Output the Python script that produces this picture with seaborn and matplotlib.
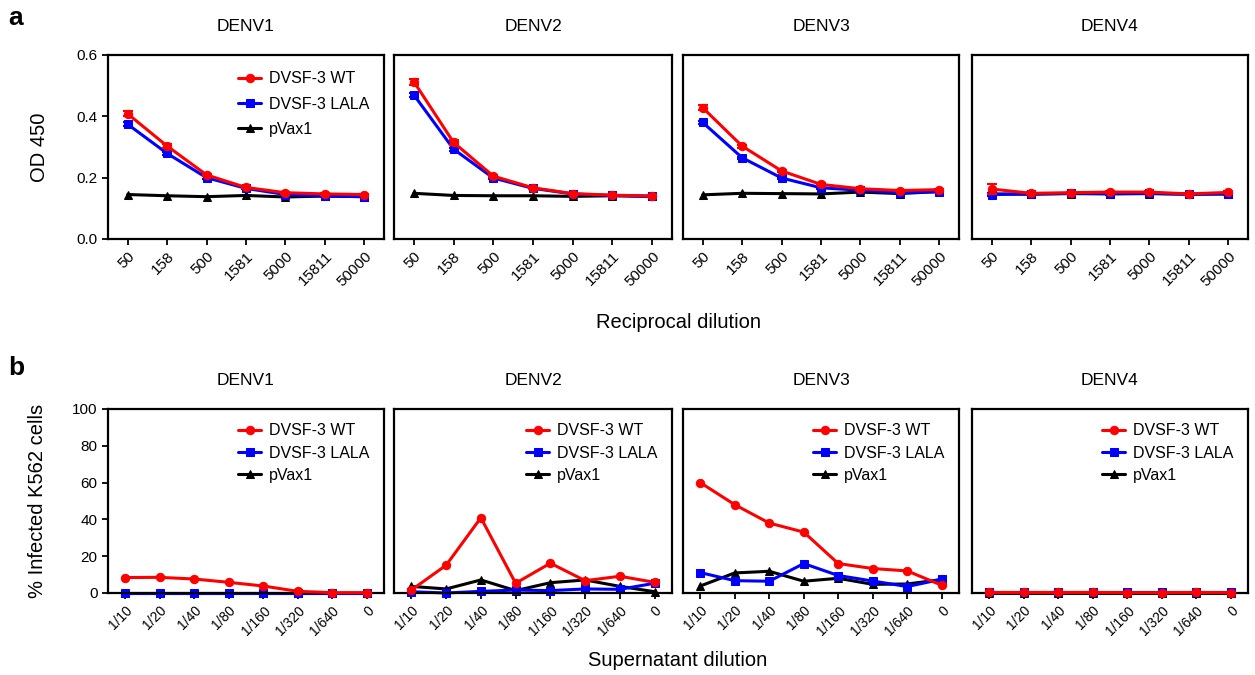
import numpy as np
import matplotlib.pyplot as plt
import seaborn as sns
import pandas as pd

sns.set_style("white")
plt.rcParams["font.family"] = ["Liberation Sans", "DejaVu Sans"]
plt.rcParams["text.color"] = "black"
plt.rcParams["axes.labelcolor"] = "black"
plt.rcParams["xtick.color"] = "black"
plt.rcParams["ytick.color"] = "black"

# ---数据----------------------------------------------------------------
serotypes = ["DENV1", "DENV2", "DENV3", "DENV4"]
series_names = ["DVSF-3 WT", "DVSF-3 LALA", "pVax1"]

# a: ELISA OD450
recip_dilution = ["50", "158", "500", "1581", "5000", "15811", "50000"]
od_wt = [
    [0.408, 0.303, 0.209, 0.168, 0.151, 0.147, 0.145],
    [0.513, 0.315, 0.205, 0.167, 0.148, 0.143, 0.140],
    [0.428, 0.303, 0.222, 0.178, 0.164, 0.158, 0.161],
    [0.163, 0.149, 0.151, 0.153, 0.153, 0.147, 0.152],
]
od_wt_err = [
    [0.008, 0.007, 0.004, 0.003, 0.003, 0.002, 0.002],
    [0.010, 0.007, 0.004, 0.003, 0.002, 0.002, 0.002],
    [0.008, 0.005, 0.004, 0.003, 0.003, 0.002, 0.002],
    [0.016, 0.003, 0.003, 0.004, 0.003, 0.002, 0.003],
]
od_lala = [
    [0.374, 0.279, 0.200, 0.165, 0.145, 0.140, 0.138],
    [0.470, 0.293, 0.199, 0.165, 0.147, 0.142, 0.139],
    [0.380, 0.265, 0.199, 0.167, 0.159, 0.151, 0.154],
    [0.145, 0.147, 0.149, 0.148, 0.149, 0.146, 0.147],
]
od_lala_err = [
    [0.006, 0.005, 0.004, 0.003, 0.002, 0.002, 0.002],
    [0.006, 0.005, 0.004, 0.003, 0.002, 0.002, 0.002],
    [0.006, 0.004, 0.004, 0.003, 0.002, 0.002, 0.002],
    [0.004, 0.003, 0.003, 0.003, 0.002, 0.002, 0.002],
]
od_pvax = [
    [0.145, 0.141, 0.138, 0.142, 0.137, 0.140, 0.138],
    [0.149, 0.142, 0.141, 0.141, 0.139, 0.141, 0.139],
    [0.144, 0.149, 0.148, 0.147, 0.153, 0.148, 0.155],
    [0.147, 0.146, 0.148, 0.147, 0.148, 0.146, 0.147],
]

# b: ADE, % infected K562
sup_dilution = ["1/10", "1/20", "1/40", "1/80", "1/160", "1/320", "1/640", "0"]
inf_wt = [
    [8.4, 8.5, 7.6, 5.8, 3.8, 0.9, 0.2, 0.2],
    [1.6, 15.1, 40.9, 5.3, 16.2, 6.7, 9.1, 5.8],
    [60.0, 48.0, 38.0, 33.1, 16.0, 13.3, 12.0, 4.2],
    [0.3, 0.3, 0.3, 0.3, 0.2, 0.2, 0.3, 0.2],
]
inf_lala = [
    [0.2, 0.2, 0.2, 0.2, 0.2, 0.2, 0.2, 0.2],
    [0.7, 0.0, 0.9, 1.6, 1.3, 2.2, 2.0, 5.3],
    [11.1, 6.7, 6.4, 16.0, 9.5, 6.5, 3.5, 7.5],
    [0.3, 0.3, 0.3, 0.3, 0.3, 0.3, 0.3, 0.3],
]
inf_pvax = [
    [0.1, 0.1, 0.1, 0.1, 0.1, 0.1, 0.1, 0.1],
    [3.6, 2.2, 7.1, 1.3, 5.6, 7.1, 3.6, 0.7],
    [3.8, 10.9, 11.8, 6.4, 8.0, 4.7, 4.9, 7.3],
    [0.2, 0.2, 0.2, 0.2, 0.2, 0.2, 0.2, 0.2],
]

colors = {"DVSF-3 WT": "#ff0000", "DVSF-3 LALA": "#0000ff", "pVax1": "#000000"}
markers = {"DVSF-3 WT": "o", "DVSF-3 LALA": "s", "pVax1": "^"}

W, H = 1255, 675
fig = plt.figure(figsize=(W / 100, H / 100), dpi=100)

# 坐标轴像素位置 (left, right)
col_px = [(108, 384), (394, 672), (683, 959), (972, 1248)]
row_px = {"a": (55, 239), "b": (409, 593)}


def make_ax(col, row):
    x0, x1 = col_px[col]
    y0, y1 = row_px[row]
    return fig.add_axes([x0 / W, 1 - y1 / H, (x1 - x0) / W, (y1 - y0) / H])


def style_ax(ax, labels, first, xsize):
    for sp in ax.spines.values():
        sp.set_linewidth(1.6)
        sp.set_color("black")
        sp.set_visible(True)
    ax.set_xticks(range(len(labels)))
    ax.set_xticklabels(labels, rotation=45, ha="right", rotation_mode="anchor", fontsize=xsize)
    ax.tick_params(axis="both", direction="out", length=4, width=1.3, color="black",
                   bottom=True, left=first)
    ax.set_xlim(-0.5, len(labels) - 0.5)
    ax.set_xlabel("")
    ax.set_ylabel("")
    if not first:
        ax.set_yticklabels([])


def draw_series(ax, x, y, name, err=None):
    df = pd.DataFrame({"x": x, "y": y})
    sns.lineplot(data=df, x="x", y="y", ax=ax, color=colors[name], marker=markers[name],
                 markersize=6, markeredgecolor=colors[name], linewidth=2.2,
                 label=name, clip_on=False, zorder=3 if name == "DVSF-3 WT" else 2)
    if err is not None:
        ax.errorbar(x, y, yerr=err, fmt="none", ecolor=colors[name], elinewidth=1.5,
                    capsize=3.5, capthick=1.5, zorder=2)


def add_legend(ax, spacing, anchor_y):
    h, l = ax.get_legend_handles_labels()
    order = [l.index(n) for n in series_names]
    ax.legend([h[k] for k in order], series_names, loc="upper right", frameon=False,
              fontsize=11.5, handlelength=1.45, handletextpad=0.5, labelspacing=spacing,
              bbox_to_anchor=(1.0, anchor_y))


# ---a 行----------------------------------------------------------------
xa = np.arange(len(recip_dilution))
for i, sero in enumerate(serotypes):
    ax = make_ax(i, "a")
    draw_series(ax, xa, od_pvax[i], "pVax1")
    draw_series(ax, xa, od_lala[i], "DVSF-3 LALA", od_lala_err[i])
    draw_series(ax, xa, od_wt[i], "DVSF-3 WT", od_wt_err[i])
    ax.set_ylim(0, 0.6)
    ax.set_yticks([0.0, 0.2, 0.4, 0.6])
    ax.set_yticklabels(["0.0", "0.2", "0.4", "0.6"], fontsize=11)
    style_ax(ax, recip_dilution, i == 0, 11)
    ax.set_title(sero, fontsize=12.5, pad=17)
    if i == 0:
        add_legend(ax, 0.65, 0.99)
        ax.set_ylabel("OD 450", fontsize=14.5, labelpad=20)
    else:
        ax.get_legend().remove()

# ---b 行----------------------------------------------------------------
xb = np.arange(len(sup_dilution))
for i, sero in enumerate(serotypes):
    ax = make_ax(i, "b")
    draw_series(ax, xb, inf_pvax[i], "pVax1")
    draw_series(ax, xb, inf_lala[i], "DVSF-3 LALA")
    draw_series(ax, xb, inf_wt[i], "DVSF-3 WT")
    ax.set_ylim(0, 100)
    ax.set_yticks([0, 20, 40, 60, 80, 100])
    ax.set_yticklabels(["0", "20", "40", "60", "80", "100"], fontsize=11)
    style_ax(ax, sup_dilution, i == 0, 10)
    ax.set_title(sero, fontsize=12.5, pad=17)
    add_legend(ax, 0.45, 1.0)
    if i == 0:
        ax.set_ylabel("% Infected K562 cells", fontsize=14.5, labelpad=18)

# 共用的 x 轴标题和面板字母
fig.text(678 / W, 1 - 322 / H, "Reciprocal dilution", ha="center", va="center", fontsize=14.5)
fig.text(678 / W, 1 - 661 / H, "Supernatant dilution", ha="center", va="center", fontsize=14.5)
fig.text(8 / W, 1 - 18 / H, "a", ha="left", va="center", fontsize=19, fontweight="bold")
fig.text(8 / W, 1 - 368 / H, "b", ha="left", va="center", fontsize=19, fontweight="bold")

plt.savefig("out.png", dpi=100)
